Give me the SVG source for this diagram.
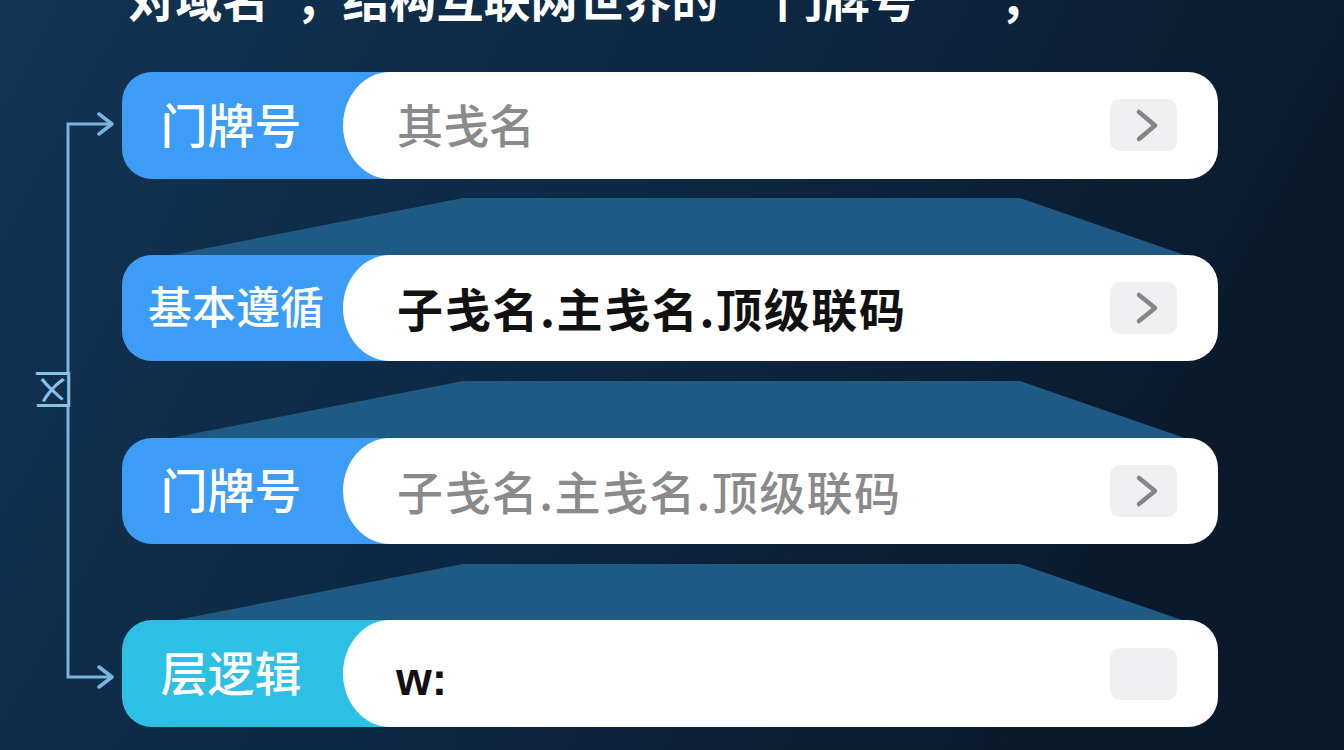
<svg xmlns="http://www.w3.org/2000/svg" width="1344" height="750" viewBox="0 0 1344 750">
  <defs>
    <linearGradient id="bg" x1="0" y1="0" x2="1" y2="0.3">
      <stop offset="0" stop-color="#123452"/>
      <stop offset="0.5" stop-color="#0d2843"/>
      <stop offset="1" stop-color="#0a1a2c"/>
    </linearGradient>
    <marker id="arr" viewBox="0 0 20 24" refX="16" refY="12" markerWidth="20" markerHeight="24" markerUnits="userSpaceOnUse" orient="auto">
      <polyline points="3,2 16,12 3,22" fill="none" stroke="#7ab4de" stroke-width="3.5" stroke-linecap="round" stroke-linejoin="round"/>
    </marker>
    <style>
      .title{font-family:"Noto Sans CJK SC","Noto Sans",sans-serif;font-size:47px;font-weight:700;fill:#ffffff;}
      .lbl{font-family:"Noto Sans CJK SC","Noto Sans",sans-serif;font-size:47px;font-weight:500;fill:#ffffff;text-anchor:middle;}
      .lbl4{font-size:44px;}
      .val{font-family:"Noto Sans CJK SC","Noto Sans",sans-serif;font-size:46px;}
      .grey{fill:#8a8a8a;font-weight:500;}
      .dark{fill:#111111;font-weight:700;}
      .tag{fill:#3d9cf5;}
      .tag4{fill:#2ec0e4;}
      .bar{fill:#ffffff;}
      .btn{fill:#f0f0f2;}
      .chev{fill:none;stroke:#858585;stroke-width:4.5;stroke-linecap:round;stroke-linejoin:round;}
      .trap{fill:#1e5a84;}
      .conn{fill:none;stroke:#7ab4de;stroke-width:3;}
      .side{font-family:"Noto Sans CJK SC","Noto Sans",sans-serif;font-size:40px;fill:#8cc0e6;text-anchor:middle;}
    </style>
  </defs>

  <rect x="0" y="0" width="1344" height="750" fill="url(#bg)"/>

  <text class="title" y="17"><tspan x="128">对域名</tspan><tspan x="272">”，结构互联网世界的</tspan><tspan x="729">“</tspan><tspan x="776">门牌号”</tspan><tspan x="1000">，</tspan></text>

  <g id="bands">
    <polygon class="trap" points="463,198 1020,198 1205,262 135,262"/>
    <polygon class="trap" points="463,381 1020,381 1205,445 135,445"/>
    <polygon class="trap" points="463,564 1020,564 1205,628 135,628"/>
  </g>

  <g id="connectors">
    <path class="conn" d="M68,373 V124 H112" marker-end="url(#arr)"/>
    <path class="conn" d="M68,405 V677 H112" marker-end="url(#arr)"/>
    <text class="side" transform="translate(54,389) rotate(180)" y="14">区</text>
  </g>

  <g id="row1">
    <rect class="tag" x="122" y="72" width="300" height="107" rx="30"/>
    <path class="bar" d="M390,72 H1188 A30,30 0 0 1 1218,102 V149 A30,30 0 0 1 1188,179 H390 A47,53.5 0 0 1 390,72 Z"/>
    <text class="lbl" x="231" y="143">门牌号</text>
    <text class="val grey" x="397" y="143">其戋名</text>
    <rect class="btn" x="1110" y="99" width="67" height="52" rx="10"/>
    <polyline class="chev" points="1139,112 1155,125.5 1139,139"/>
  </g>

  <g id="row2">
    <rect class="tag" x="122" y="255" width="300" height="106" rx="30"/>
    <path class="bar" d="M390,255 H1188 A30,30 0 0 1 1218,285 V331 A30,30 0 0 1 1188,361 H390 A47,53 0 0 1 390,255 Z"/>
    <text class="lbl lbl4" x="236" y="324">基本遵循</text>
    <text class="val dark" x="397" y="327" textLength="508" lengthAdjust="spacing">子戋名.主戋名.顶级联码</text>
    <rect class="btn" x="1110" y="282" width="67" height="52" rx="10"/>
    <polyline class="chev" points="1139,295 1155,308 1139,321"/>
  </g>

  <g id="row3">
    <rect class="tag" x="122" y="438" width="300" height="106" rx="30"/>
    <path class="bar" d="M390,438 H1188 A30,30 0 0 1 1218,468 V514 A30,30 0 0 1 1188,544 H390 A47,53 0 0 1 390,438 Z"/>
    <text class="lbl" x="231" y="508">门牌号</text>
    <text class="val grey" x="397" y="510" textLength="503" lengthAdjust="spacing">子戋名.主戋名.顶级联码</text>
    <rect class="btn" x="1110" y="465" width="67" height="52" rx="10"/>
    <polyline class="chev" points="1139,478 1155,491 1139,504"/>
  </g>

  <g id="row4">
    <rect class="tag4" x="122" y="620" width="300" height="107" rx="30"/>
    <path class="bar" d="M390,620 H1188 A30,30 0 0 1 1218,650 V697 A30,30 0 0 1 1188,727 H390 A47,53.5 0 0 1 390,620 Z"/>
    <text class="lbl" x="231" y="691">层逻辑</text>
    <text class="val dark" x="396" y="695" style="font-family:'Liberation Sans','Noto Sans',sans-serif;font-size:46px;">w:</text>
    <rect class="btn" x="1110" y="648" width="67" height="52" rx="10"/>
  </g>
</svg>
